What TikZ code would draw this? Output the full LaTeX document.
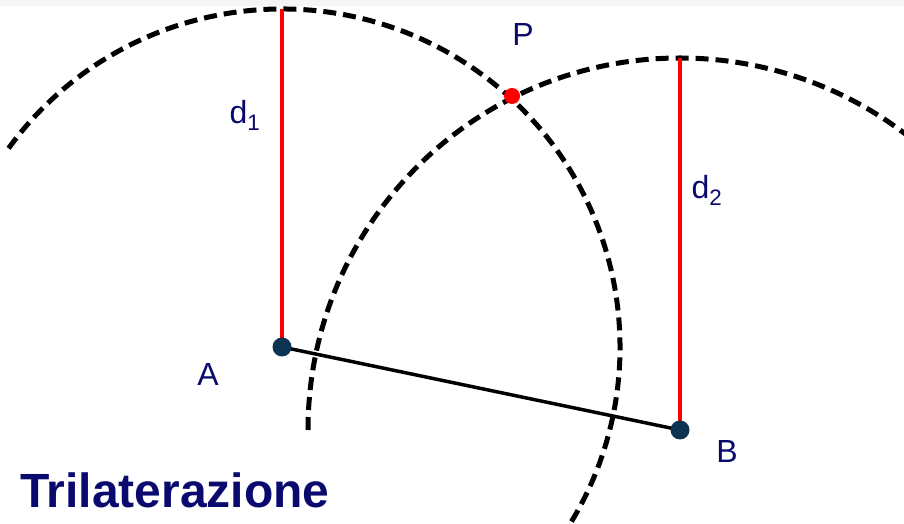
\documentclass[tikz,border=0pt]{standalone}
\usepackage{fontspec}
\setmainfont{Liberation Sans}
\usetikzlibrary{positioning}
\definecolor{navytext}{RGB}{10,10,110}
\definecolor{dotblue}{RGB}{12,52,82}

\begin{document}
\begin{tikzpicture}[x=1pt,y=1pt,
    circ/.style={black,line width=5pt,dash pattern=on 13pt off 7pt},
    dist/.style={red,line width=3.5pt},
    lbl/.style={text=navytext,font=\fontsize{32}{36}\selectfont,inner sep=0pt}]
  \useasboundingbox (0,0) rectangle (904,524);
  \fill[gray!8] (0,518) rectangle (904,524);
  \clip (0,0) rectangle (904,524);
  % stations and point
  \coordinate (A) at (282,177);
  \coordinate (B) at (680,94);
  \coordinate (P) at (512,428);
  \coordinate (Atop) at (282,515);
  \coordinate (Btop) at (680,466);
  % circles of distance
  \draw[circ] (A) ++(144:338) arc[start angle=144,end angle=-34,radius=338];
  \draw[circ] (B) ++(180:372) arc[start angle=180,end angle=50,radius=372];
  % radii and baseline
  \draw[dist] (A)--(Atop);
  \draw[dist] (B)--(Btop);
  \draw[line width=3.5pt] (A)--(B);
  \fill[dotblue] (A) circle (9.5pt);
  \fill[dotblue] (B) circle (9.5pt);
  \fill[red] (P) circle (8pt);
  % labels
  \node[lbl] (lA) at (208,150) {A};
  \node[lbl] (lB) at (727,73) {B};
  \node[lbl] (lP) at (523,489) {P};
  \node[lbl] (ld1) at (245,409) {d\textsubscript{1}};
  \node[lbl] (ld2) at (707,334) {d\textsubscript{2}};
  \node[text=navytext,font=\bfseries\fontsize{48}{52}\selectfont,anchor=base west,inner sep=0pt]
    (title) at (20,16) {Trilaterazione};
\end{tikzpicture}
\end{document}
